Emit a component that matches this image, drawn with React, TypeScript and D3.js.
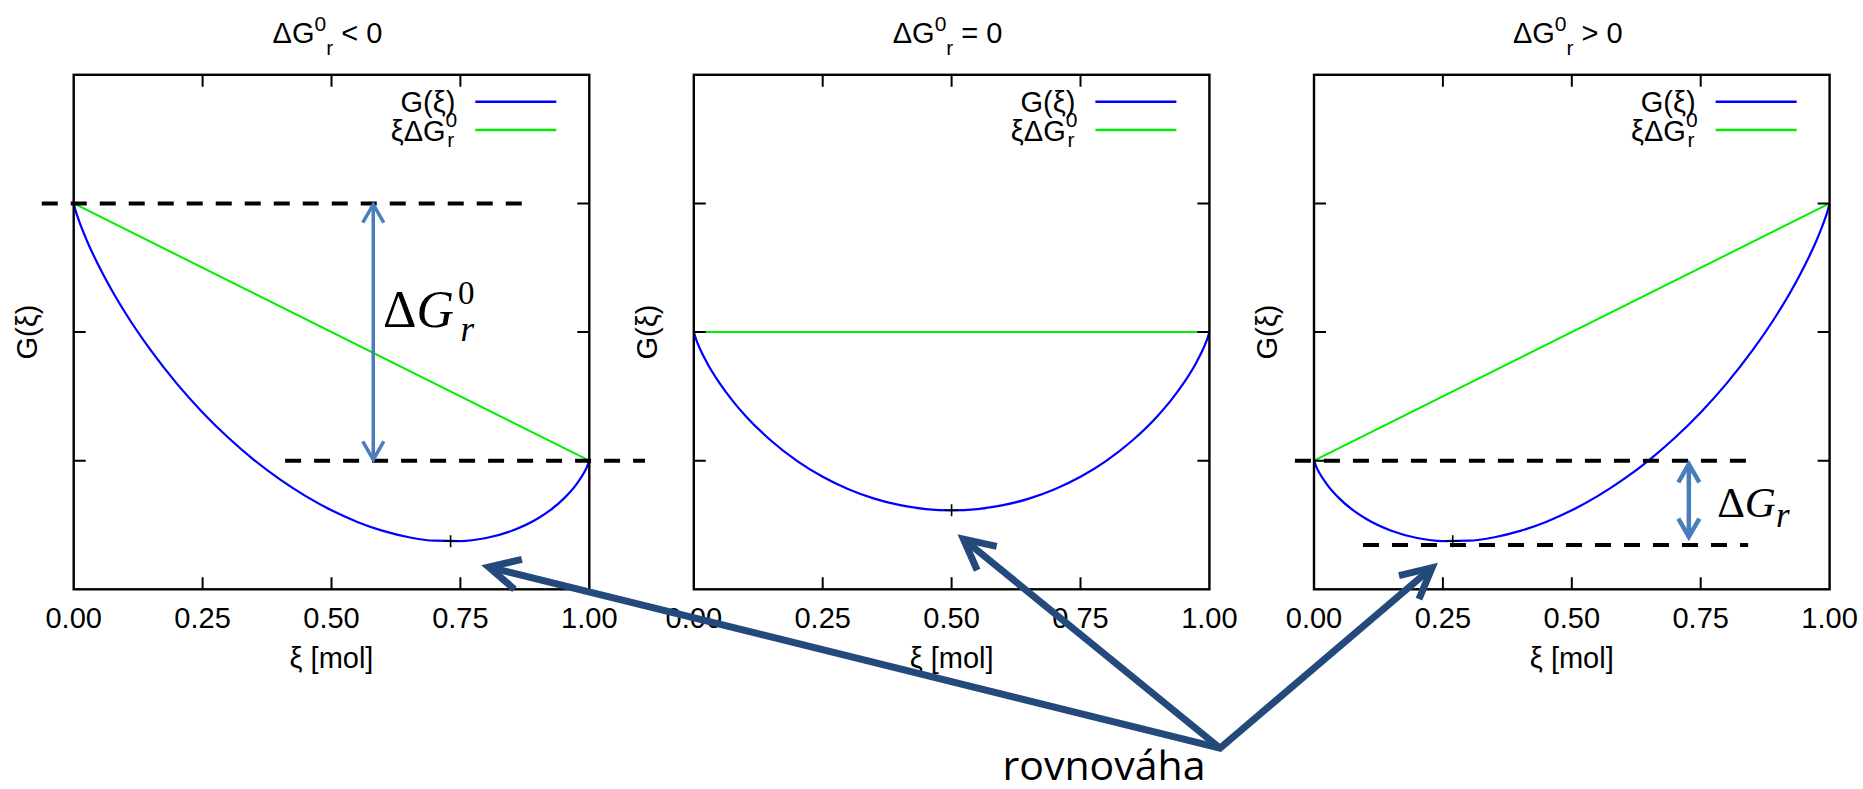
import React from "react";
import * as d3 from "d3";

const W = 1863;
const H = 789;

const xiSamples = [
  0, 0.005, 0.01, 0.025, 0.05, 0.075, 0.1, 0.15, 0.2, 0.25, 0.3, 0.35, 0.4, 0.45, 0.5,
  0.55, 0.6, 0.65, 0.7, 0.75, 0.8, 0.85, 0.9, 0.925, 0.95, 0.975, 0.99, 0.995, 1,
];

// G(xi) (tick units)
const gNegative = [
  0, -0.073, -0.132, -0.284, -0.497, -0.683, -0.85, -1.145, -1.401, -1.625, -1.822, -1.995,
  -2.146, -2.276, -2.386, -2.476, -2.546, -2.595, -2.622, -2.625, -2.601, -2.545, -2.45,
  -2.383, -2.297, -2.184, -2.092, -2.053, -2,
];
const gZero = [
  0, -0.063, -0.112, -0.234, -0.397, -0.533, -0.65, -0.845, -1.001, -1.125, -1.222, -1.295,
  -1.346, -1.376, -1.386, -1.376, -1.346, -1.295, -1.222, -1.125, -1.001, -0.845, -0.65,
  -0.533, -0.397, -0.234, -0.112, -0.063, 0,
];
const gPositive = [
  0, -0.053, -0.092, -0.184, -0.297, -0.383, -0.45, -0.545, -0.601, -0.625, -0.622, -0.595,
  -0.546, -0.476, -0.386, -0.276, -0.146, 0.005, 0.178, 0.375, 0.599, 0.855, 1.15, 1.317,
  1.503, 1.716, 1.868, 1.927, 2,
];

const titleOps = ["<", "=", ">"];
const deltaG0 = [-2, 0, 2];
const yDomains: [number, number][] = [[-3, 1], [-2, 2], [-1, 3]];
const equilibrium = [
  [0.731, -2.627],
  [0.5, -1.386],
  [0.269, -0.627],
];
const xTicks = [0, 0.25, 0.5, 0.75, 1];

// dashed guide lines: [panel, G, xi from, xi to]
const dashedLines = [
  [0, 0, -0.062, 0.873],
  [0, -2, 0.41, 1.108],
  [2, 0, -0.037, 0.842],
  [2, -0.655, 0.095, 0.842],
];
// blue double arrows: [panel, xi, G top, G bottom, width]
const gapArrows = [
  [0, 0.581, 0, -2, 3.5],
  [2, 0.727, -0.02, -0.6, 4.5],
];
// "rovnováha" arrows: heads in each panel, tail in panel 2 units
const eqArrowHeads = [
  [0, 0.805, -2.827],
  [1, 0.523, -1.61],
  [2, 0.229, -0.832],
];
const eqArrowTail = [1.0206, -3.235];
const eqLabel = [0.7956, -3.485];

const panelLefts = [73.7, 693.8, 1314];
const panelTop = 74.8;
const panelW = 515.6;
const panelH = 514.5;

const sans = "'Liberation Sans', Arial, sans-serif";
const serif = "'Liberation Serif', 'Times New Roman', serif";
const fs = 29;
const fsSmall = 21;

const chevron = (tx: number, ty: number, fx: number, fy: number, len: number, half: number) => {
  const a = Math.atan2(fy - ty, fx - tx);
  const h = (half * Math.PI) / 180;
  const p1 = [tx + len * Math.cos(a - h), ty + len * Math.sin(a - h)];
  const p2 = [tx + len * Math.cos(a + h), ty + len * Math.sin(a + h)];
  return `M${p1[0]},${p1[1]}L${tx},${ty}L${p2[0]},${p2[1]}`;
};

const makeScales = (i: number) => {
  const x = d3.scaleLinear().domain([0, 1]).range([panelLefts[i], panelLefts[i] + panelW]);
  const y = d3.scaleLinear().domain(yDomains[i]).range([panelTop + panelH, panelTop]);
  return { x, y };
};

const series = [gNegative, gZero, gPositive];

function Panel({ i }: { i: number }) {
  const { x, y } = makeScales(i);
  const left = panelLefts[i];
  const right = left + panelW;
  const bottom = panelTop + panelH;
  const line = d3
    .line<number>()
    .x((_, k) => x(xiSamples[k]))
    .y((d) => y(d))
    .curve(d3.curveMonotoneX);
  const yTicks = d3.range(yDomains[i][0] + 1, yDomains[i][1]);
  const fmt = d3.format(".2f");
  const [ex, ey] = equilibrium[i];
  const cx = (left + right) / 2;
  return (
    <g>
      {/* title */}
      <text x={cx - 4} y={43} textAnchor="middle" fontFamily={sans} fontSize={fs}>
        ΔG
        <tspan dy={-12} fontSize={fsSmall}>0</tspan>
        <tspan dy={24} fontSize={fsSmall}>r</tspan>
        <tspan dy={-12}>{` ${titleOps[i]} 0`}</tspan>
      </text>
      {/* curves */}
      <path
        d={`M${x(0)},${y(0)}L${x(1)},${y(deltaG0[i])}`}
        stroke="#00ee00"
        strokeWidth={2}
        fill="none"
      />
      <path d={line(series[i]) ?? ""} stroke="#0000ff" strokeWidth={2.2} fill="none" />
      {/* equilibrium mark */}
      <path
        d={`M${x(ex) - 7},${y(ey)}H${x(ex) + 7}M${x(ex)},${y(ey) - 6}V${y(ey) + 6}`}
        stroke="#000"
        strokeWidth={1.6}
      />
      {/* frame and ticks */}
      <rect x={left} y={panelTop} width={panelW} height={panelH} fill="none" stroke="#000" strokeWidth={2.4} />
      {xTicks.slice(1, -1).map((t) => (
        <path
          key={"xt" + t}
          d={`M${x(t)},${bottom}v-12M${x(t)},${panelTop}v12`}
          stroke="#000"
          strokeWidth={2}
        />
      ))}
      {yTicks.map((t) => (
        <path
          key={"yt" + t}
          d={`M${left},${y(t)}h12M${right},${y(t)}h-12`}
          stroke="#000"
          strokeWidth={2}
        />
      ))}
      {xTicks.map((t) => (
        <text key={"xl" + t} x={x(t)} y={628} textAnchor="middle" fontFamily={sans} fontSize={fs}>
          {fmt(t)}
        </text>
      ))}
      <text x={cx} y={668} textAnchor="middle" fontFamily={sans} fontSize={fs}>
        ξ [mol]
      </text>
      <text
        transform={`translate(${left - 37},${(panelTop + bottom) / 2}) rotate(-90)`}
        textAnchor="middle"
        fontFamily={sans}
        fontSize={fs}
      >
        G(ξ)
      </text>
      {/* legend */}
      <text x={right - 134} y={112} textAnchor="end" fontFamily={sans} fontSize={fs}>
        G(ξ)
      </text>
      <line x1={right - 114} x2={right - 33} y1={101.7} y2={101.7} stroke="#0000ff" strokeWidth={2.4} />
      <text x={right - 132} y={141} textAnchor="end" fontFamily={sans} fontSize={fs}>
        ξΔG
        <tspan dy={-14} fontSize={fsSmall}>0</tspan>
        <tspan dx={-10} dy={20} fontSize={fsSmall}>r</tspan>
      </text>
      <line x1={right - 114} x2={right - 33} y1={130} y2={130} stroke="#00ee00" strokeWidth={2.4} />
    </g>
  );
}

export default function App() {
  const scales = [0, 1, 2].map(makeScales);
  const s1 = scales[1];
  const tail = [s1.x(eqArrowTail[0]), s1.y(eqArrowTail[1])];
  const heads = eqArrowHeads.map(([p, xi, g]) => [scales[p].x(xi), scales[p].y(g)]);
  return (
    <svg
      width={W}
      height={H}
      viewBox={`0 0 ${W} ${H}`}
      style={{ position: "absolute", left: 0, top: 0, background: "#fff" }}
    >
      <rect width={W} height={H} fill="#fff" />
      {[0, 1, 2].map((i) => (
        <Panel key={i} i={i} />
      ))}
      {dashedLines.map(([p, g, a, b], k) => (
        <line
          key={"d" + k}
          x1={scales[p].x(a)}
          x2={scales[p].x(b)}
          y1={scales[p].y(g)}
          y2={scales[p].y(g)}
          stroke="#000"
          strokeWidth={4}
          strokeDasharray="16 13"
        />
      ))}
      {gapArrows.map(([p, xi, g1, g2, w], k) => {
        const ax = scales[p].x(xi);
        const y1 = scales[p].y(g1);
        const y2 = scales[p].y(g2);
        return (
          <g key={"ga" + k} stroke="#4a7ebb" strokeWidth={w} fill="none">
            <line x1={ax} x2={ax} y1={y1 + 1} y2={y2 - 1} />
            <path d={chevron(ax, y1 + 1, ax, y2, 21, 30)} />
            <path d={chevron(ax, y2 - 1, ax, y1, 21, 30)} />
          </g>
        );
      })}
      {/* ΔG0r label */}
      <text x={scales[0].x(0.6)} y={scales[0].y(-0.961)} fontFamily={serif} fontSize={52}>
        Δ<tspan fontStyle="italic">G</tspan>
        <tspan dx={4} dy={-23} fontSize={33}>0</tspan>
        <tspan dx={-14} dy={37} fontSize={35} fontStyle="italic">r</tspan>
      </text>
      {/* ΔGr label */}
      <text x={scales[2].x(0.782)} y={scales[2].y(-0.439)} fontFamily={serif} fontSize={43}>
        Δ<tspan fontStyle="italic">G</tspan>
        <tspan dy={10} fontSize={35} fontStyle="italic">r</tspan>
      </text>
      {/* equilibrium arrows */}
      <g stroke="#244a7c" strokeWidth={7} fill="none" strokeLinejoin="miter">
        <path d={`M${heads[0][0]},${heads[0][1]}L${tail[0]},${tail[1]}L${heads[2][0]},${heads[2][1]}`} />
        <path d={`M${tail[0]},${tail[1]}L${heads[1][0]},${heads[1][1]}`} />
        {heads.map(([hx, hy], k) => (
          <path key={"h" + k} d={chevron(hx, hy, tail[0], tail[1], 34, 27)} />
        ))}
      </g>
      <text
        x={s1.x(eqLabel[0])}
        y={s1.y(eqLabel[1])}
        textAnchor="middle"
        fontFamily="'Open Sans', sans-serif"
        fontSize={41}
      >
        rovnováha
      </text>
    </svg>
  );
}
